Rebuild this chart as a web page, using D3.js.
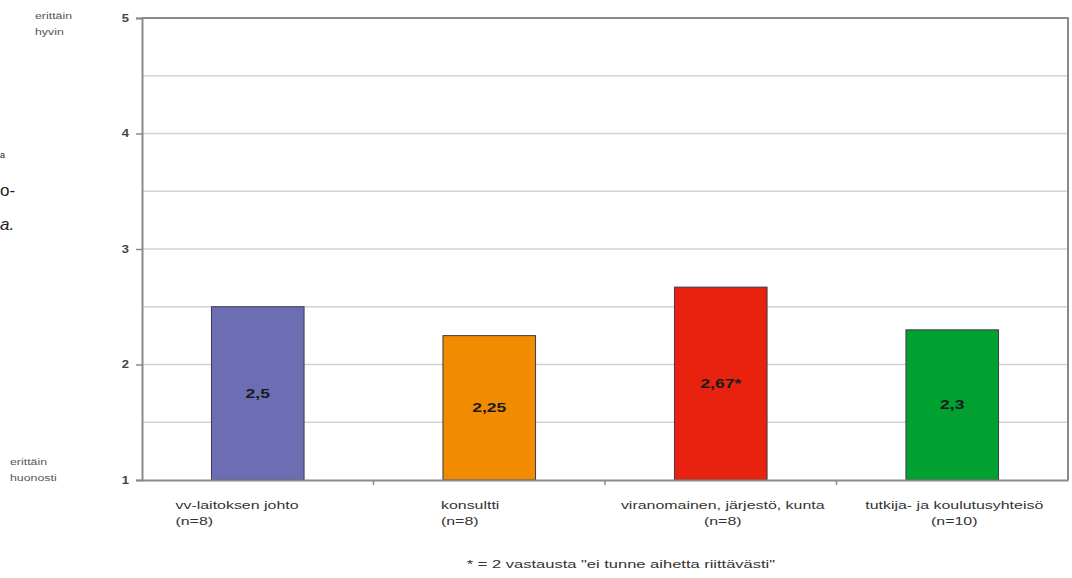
<!DOCTYPE html>
<html>
<head>
<meta charset="utf-8">
<script src="https://cdn.jsdelivr.net/npm/d3@7"></script>
<style>
  html, body { margin: 0; padding: 0; background: #fff; }
  svg { display: block; }
  text { font-family: "Liberation Sans", Arial, sans-serif; }
</style>
</head>
<body>
<svg id="chart" width="1072" height="578"></svg>
<script>
// Respondent groups and their mean ratings (1 = erittäin huonosti, 5 = erittäin hyvin)
const categories = [
  "vv-laitoksen johto",
  "konsultti",
  "viranomainen, järjestö, kunta",
  "tutkija- ja koulutusyhteisö"
];
const groupSizes = ["(n=8)", "(n=8)", "(n=8)", "(n=10)"];
const values = [2.5, 2.25, 2.67, 2.3];
const valueLabels = ["2,5", "2,25", "2,67*", "2,3"];
const barColors = ["#6d6db4", "#f18b00", "#e8220e", "#00a031"];
const yTicks = [1, 2, 3, 4, 5];
const gridSteps = [1.5, 2, 2.5, 3, 3.5, 4, 4.5];
const footnote = "* = 2 vastausta \"ei tunne aihetta riittävästi\"";

const svg = d3.select("#chart");
const plot = { left: 142, right: 1068, top: 18, bottom: 480 };
const STRETCH = 1.45; // the typeface is set wide

// Draws a horizontally widened text at (x, y)
function wideText(parent, x, y, str, opts) {
  const g = parent.append("g")
    .attr("transform", `translate(${x},${y}) scale(${opts.sx || STRETCH},1)`);
  return g.append("text")
    .attr("text-anchor", opts.anchor || "start")
    .attr("dy", opts.dy || null)
    .attr("font-size", opts.size)
    .attr("font-weight", opts.weight || "normal")
    .attr("fill", opts.fill || "#333")
    .text(str);
}

const x = d3.scaleBand()
  .domain(categories)
  .range([plot.left, plot.right])
  .paddingInner(0.6)
  .paddingOuter(0.3);

const y = d3.scaleLinear()
  .domain([1, 5])
  .range([plot.bottom, plot.top]);

// Horizontal gridlines
svg.append("g")
  .selectAll("line")
  .data(gridSteps)
  .join("line")
  .attr("x1", plot.left).attr("x2", plot.right)
  .attr("y1", d => y(d)).attr("y2", d => y(d))
  .attr("stroke", "#d2d2d2")
  .attr("stroke-width", 1.5);

// Plot frame (top and right edges)
svg.append("path")
  .attr("d", `M${plot.left},${plot.top}H${plot.right}V${plot.bottom}`)
  .attr("fill", "none")
  .attr("stroke", "#8a8a8a")
  .attr("stroke-width", 2);

// Bars
svg.append("g")
  .selectAll("rect")
  .data(values)
  .join("rect")
  .attr("x", (d, i) => x(categories[i]))
  .attr("width", x.bandwidth())
  .attr("y", d => y(d))
  .attr("height", d => y(1) - y(d))
  .attr("fill", (d, i) => barColors[i])
  .attr("stroke", "#3a3a4a")
  .attr("stroke-width", 1);

// Value labels in the middle of each bar
values.forEach((v, i) => {
  wideText(svg, x(categories[i]) + x.bandwidth() / 2, (y(v) + y(1)) / 2, valueLabels[i], {
    anchor: "middle", dy: "0.35em", size: 13, weight: "bold", fill: "#1a1a1a", sx: 1.35
  });
});

// Y axis
const yAxis = d3.axisLeft(y)
  .tickValues(yTicks)
  .tickFormat("")
  .tickSize(6);
const gy = svg.append("g")
  .attr("transform", `translate(${plot.left},0)`)
  .call(yAxis);
gy.select(".domain").attr("stroke", "#8a8a8a").attr("stroke-width", 2);
gy.selectAll(".tick line").attr("stroke", "#8a8a8a").attr("stroke-width", 1.5);
yTicks.forEach(t => {
  wideText(svg, plot.left - 13, y(t), d3.format("d")(t), {
    anchor: "end", dy: "0.35em", size: 10, weight: "bold", fill: "#444", sx: 1.3
  });
});

// X axis with ticks between the categories
const xAxis = d3.axisBottom(x).tickSize(0).tickFormat("");
const gx = svg.append("g")
  .attr("transform", `translate(0,${plot.bottom})`)
  .call(xAxis);
gx.select(".domain").attr("stroke", "#8a8a8a").attr("stroke-width", 2);
const boundaries = categories.slice(1).map(c => x(c) - x.step() * x.paddingInner() / 2);
gx.selectAll(".sep")
  .data(boundaries)
  .join("line")
  .attr("class", "sep")
  .attr("x1", d => d).attr("x2", d => d)
  .attr("y1", 0).attr("y2", 5)
  .attr("stroke", "#8a8a8a")
  .attr("stroke-width", 1.5);

// Category labels (two lines: name and group size)
const labelAnchor = ["start", "start", "middle", "middle"];
const labelShift = [-36, -2, 2, 2];
categories.forEach((c, i) => {
  const base = labelAnchor[i] === "start" ? x(c) : x(c) + x.bandwidth() / 2;
  const lx = base + labelShift[i];
  wideText(svg, lx, 509, c, { anchor: labelAnchor[i], size: 11, fill: "#333" });
  wideText(svg, lx, 525, groupSizes[i], { anchor: labelAnchor[i], size: 11, fill: "#333" });
});

// Scale end descriptions
const ends = [
  { lines: ["erittäin", "hyvin"], x: 35, y: 19 },
  { lines: ["erittäin", "huonosti"], x: 10, y: 465 }
];
ends.forEach(e => {
  e.lines.forEach((l, k) => {
    wideText(svg, e.x, e.y + k * 16, l, { size: 9.5, fill: "#555", sx: 1.3 });
  });
});

// Footnote
wideText(svg, 621, 568, footnote, { anchor: "middle", size: 11, fill: "#333", sx: 1.5 });

// Edge of the neighbouring page text
const margin = svg.append("g")
  .attr("font-size", 17)
  .attr("fill", "#222")
  .style("font-family", "'Noto Sans', sans-serif");
margin.append("text").attr("x", 0).attr("y", 158).attr("font-size", 9).text("a");
margin.append("text").attr("x", 0).attr("y", 196).text("o-");
margin.append("text").attr("x", 0).attr("y", 230).attr("font-style", "italic").text("a.");
</script>
</body>
</html>
